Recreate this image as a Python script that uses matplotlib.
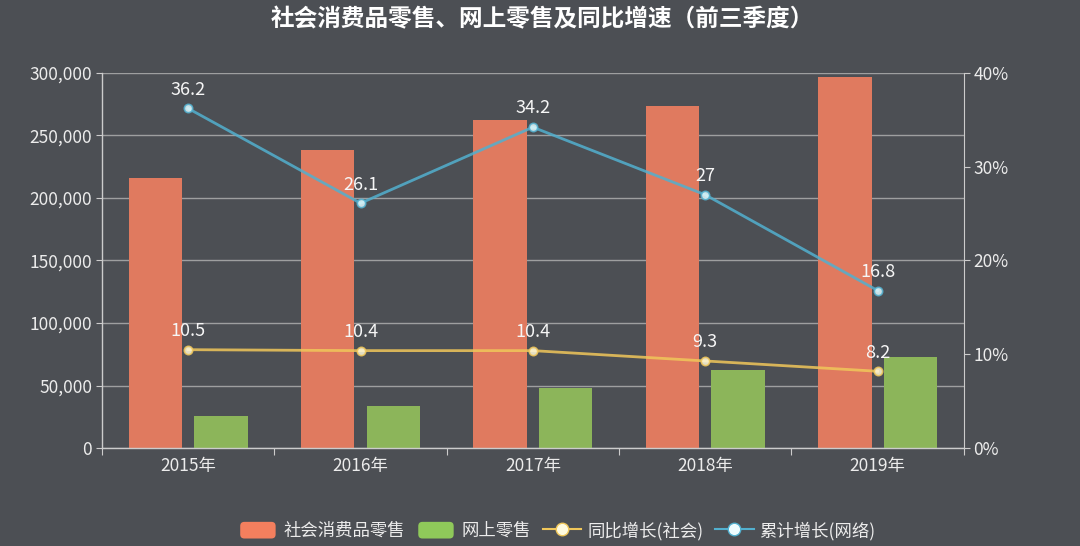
import matplotlib
matplotlib.use("Agg")
import matplotlib.pyplot as plt
from matplotlib.patches import Patch, FancyBboxPatch
from matplotlib.lines import Line2D
from matplotlib.legend_handler import HandlerPatch
from matplotlib.ticker import FuncFormatter

plt.rcParams['font.family'] = ['Noto Sans CJK SC', 'DejaVu Sans']

years = ['2015年', '2016年', '2017年', '2018年', '2019年']
retail_total = [216000, 238300, 262500, 273700, 296200]
online_retail = [25600, 34000, 48400, 62500, 73200]
yoy_growth = [10.5, 10.4, 10.4, 9.3, 8.2]
online_growth = [36.2, 26.1, 34.2, 27, 16.8]

series_names = ['社会消费品零售', '网上零售', '同比增长(社会)', '累计增长(网络)']
title = '社会消费品零售、网上零售及同比增速（前三季度）'

bg = '#4c4f54'
txt = '#ececec'
red = '#e07a5f'
green = '#8cb55a'
red_leg = '#f47f5e'
green_leg = '#8fc95a'
yellow = '#f0c75a'
blue = '#52b0cf'


class RoundedHandler(HandlerPatch):
    def create_artists(self, legend, orig_handle, xdescent, ydescent,
                       width, height, fontsize, trans):
        p = FancyBboxPatch((-xdescent + 1, -ydescent), width - 2, height,
                           boxstyle='round,pad=0,rounding_size=3',
                           facecolor=orig_handle.get_facecolor(),
                           edgecolor='none', transform=trans)
        return [p]


fig = plt.figure(figsize=(10.8, 5.46), dpi=100, facecolor=bg)
ax = fig.add_axes([0.0944, 0.179, 0.798, 0.6878])
ax.set_facecolor(bg)

x = list(range(len(years)))
w = 0.31
off = 0.19
ax.bar([i - off for i in x], retail_total, width=w, color=red, zorder=2)
ax.bar([i + off for i in x], online_retail, width=w, color=green, zorder=2)

ax.set_xlim(-0.5, len(years) - 0.5)
ax.set_ylim(0, 300000)
ax.set_yticks(range(0, 300001, 50000))
ax.yaxis.set_major_formatter(FuncFormatter(lambda v, p: f'{int(v):,}'))
ax.grid(axis='y', color='#b4b4b4', linewidth=1.0, alpha=0.8, zorder=0)
ax.set_axisbelow(True)

ax.set_xticks([i - 0.5 for i in range(len(years) + 1)])
ax.set_xticklabels([])
ax.set_xticks(x, minor=True)
ax.set_xticklabels(years, minor=True)
ax.tick_params(axis='x', which='major', length=5, color='#cccccc', direction='out')
ax.tick_params(axis='x', which='minor', length=0, pad=6, labelsize=12.5, labelcolor=txt)
ax.tick_params(axis='y', length=4, color='#cccccc', labelsize=12.5, labelcolor=txt, pad=3)

for s in ['top', 'right']:
    ax.spines[s].set_visible(False)
for s in ['left', 'bottom']:
    ax.spines[s].set_color('#cccccc')
    ax.spines[s].set_linewidth(1.0)

ax2 = ax.twinx()
ax2.patch.set_visible(False)
ax2.set_ylim(0, 40)
ax2.set_yticks(range(0, 41, 10))
ax2.yaxis.set_major_formatter(FuncFormatter(lambda v, p: f'{int(v)}%'))
ax2.tick_params(axis='y', length=4, color='#cccccc', labelsize=12.5, labelcolor=txt, pad=3)
for s in ['top', 'left', 'bottom']:
    ax2.spines[s].set_visible(False)
ax2.spines['right'].set_color('#cccccc')

ax2.plot(x, yoy_growth, color=yellow, linewidth=2, alpha=0.85, marker='o',
         markersize=6, markerfacecolor='#fff8d8', markeredgecolor=yellow,
         markeredgewidth=1.2, zorder=3)
ax2.plot(x, online_growth, color=blue, linewidth=2, alpha=0.85, marker='o',
         markersize=6, markerfacecolor='#e2fbff', markeredgecolor=blue,
         markeredgewidth=1.2, zorder=3)

for i, v in enumerate(yoy_growth):
    ax2.annotate(f'{v:g}', (i, v), xytext=(0, 7), textcoords='offset points',
                 ha='center', va='bottom', color='#f6f6f6', fontsize=13)
for i, v in enumerate(online_growth):
    ax2.annotate(f'{v:g}', (i, v), xytext=(0, 7), textcoords='offset points',
                 ha='center', va='bottom', color='#f6f6f6', fontsize=13)

fig.text(0.502, 0.965, title, ha='center', va='center', color='#ffffff',
         fontsize=17, fontweight='bold')

handles = [
    Patch(facecolor=red_leg, edgecolor='none'),
    Patch(facecolor=green_leg, edgecolor='none'),
    Line2D([0], [0], color=yellow, linewidth=1.5, marker='o', markersize=9,
           markerfacecolor='#fffbe0', markeredgecolor=yellow),
    Line2D([0], [0], color=blue, linewidth=1.5, marker='o', markersize=9,
           markerfacecolor='#eefcff', markeredgecolor=blue),
]
leg = fig.legend(handles, series_names, loc='center', bbox_to_anchor=(0.516, 0.028),
                 ncol=4, frameon=False, fontsize=12.5, labelcolor=txt,
                 handlelength=2.2, handleheight=1.1, handletextpad=0.35,
                 columnspacing=0.7,
                 handler_map={Patch: RoundedHandler()})

fig.savefig('out.png', dpi=100, facecolor=bg)
